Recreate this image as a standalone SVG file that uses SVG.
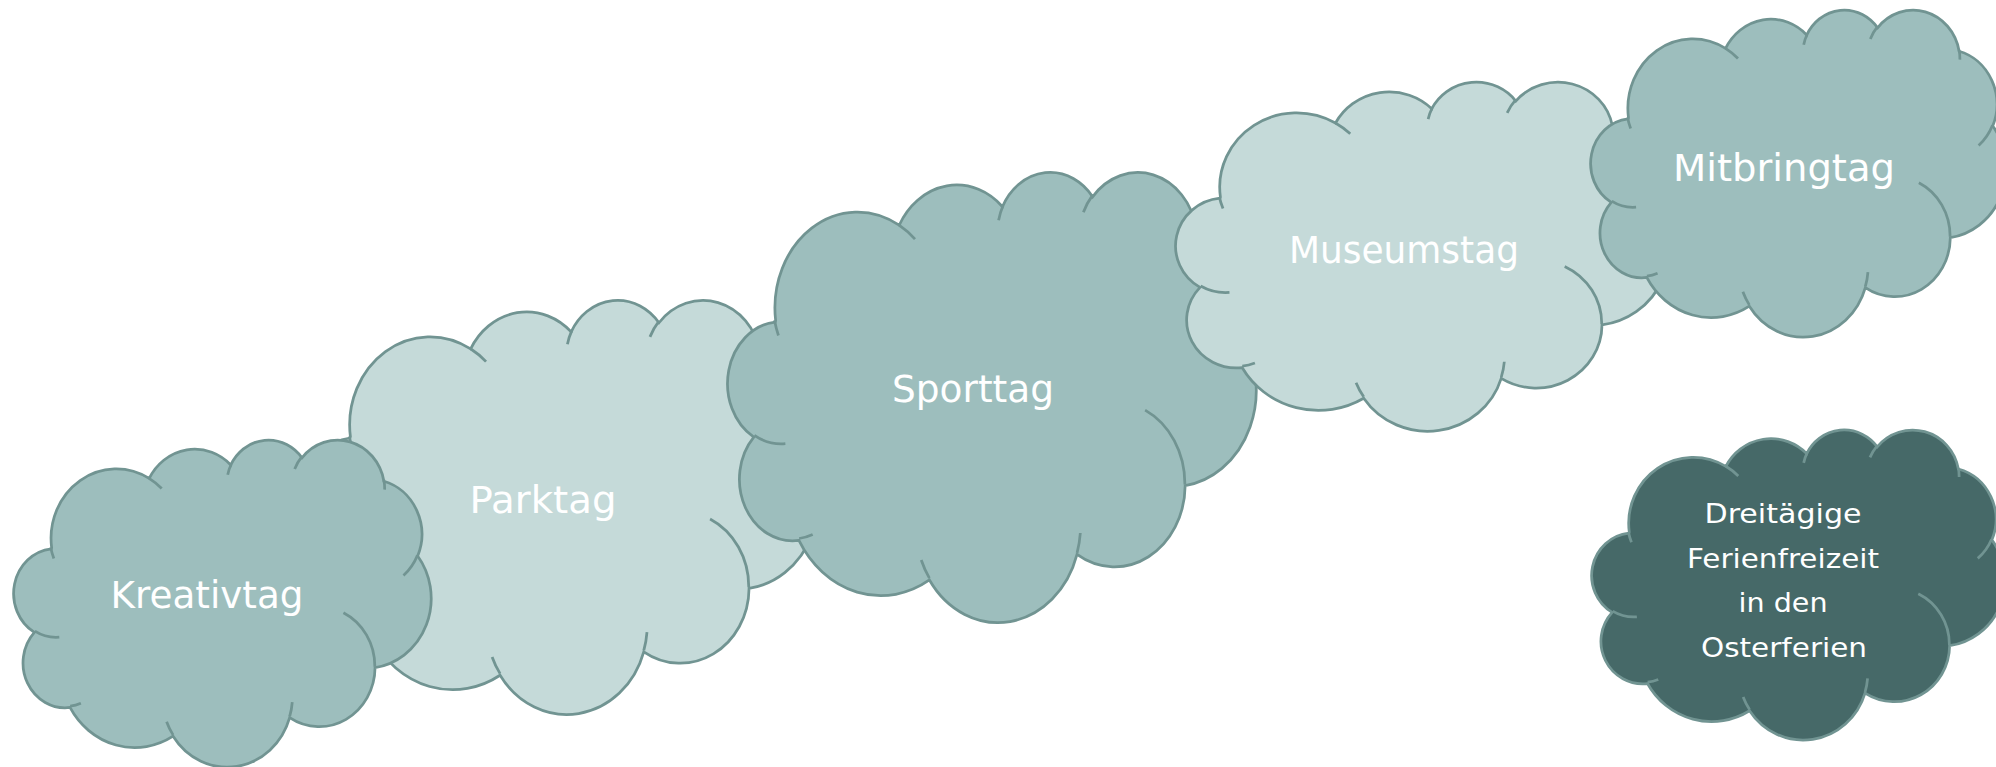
<svg xmlns="http://www.w3.org/2000/svg" xmlns:xlink="http://www.w3.org/1999/xlink" width="1996" height="767" viewBox="0 0 1996 767">
<style>
.light{fill:#C5DAD9}
.mid{fill:#9DBEBD}
.dark{fill:#466968}
.lbl{font-family:"DejaVu Sans","Liberation Sans",sans-serif;font-size:37px;fill:#FFFFFF;text-anchor:middle}
.sm{font-size:27px}
</style>
<defs>
<path id="cloud" stroke="#719492" stroke-width="2.75" vector-effect="non-scaling-stroke" d="M 3900 14370 A 6753 9190 0 0 1 14006 5203 A 5333 7267 0 0 1 22457 3432 A 4365 5945 0 0 1 29834 2480 A 4857 6595 0 0 1 38320 5575 A 5333 7273 0 0 1 41820 15459 A 6775 9220 0 0 1 37405 30201 A 5785 7867 0 0 1 28556 36811 A 6752 9215 0 0 1 16481 39263 A 7720 10543 0 0 1 5803 35468 A 4360 5918 0 0 1 2110 25548 A 4345 5945 0 0 1 3861 14504 Z"/>
<path id="lines" fill="none" stroke="#719492" stroke-width="2.75" vector-effect="non-scaling-stroke" d="M 4693 26177 A 4345 5945 0 0 1 2160 25380 M 6928 34899 A 4360 5918 0 0 1 5820 35280 M 16478 39090 A 6752 9215 0 0 1 15810 37348 M 28827 34751 A 6752 9215 0 0 1 28561 36659 M 34129 22954 A 5785 7867 0 0 1 37381 30090 M 41798 15354 A 5333 7273 0 0 1 40349 18031 M 38324 5426 A 4857 6595 0 0 1 38400 6690 M 29078 3952 A 4857 6595 0 0 1 29820 2340 M 22141 4720 A 4365 5945 0 0 1 22500 3331 M 14000 5192 A 6753 9190 0 0 1 15300 6540 M 4127 15789 A 6753 9190 0 0 1 3806 14339"/>
</defs>
<g id="connectors"></g>
<g id="parktag">
<use xlink:href="#cloud" class="light" transform="translate(304 299) scale(0.0118981 0.0095833)"/>
<use xlink:href="#lines" transform="translate(304 299) scale(0.0118981 0.0095833)"/>
<text class="lbl" x="543" y="513" textLength="147" lengthAdjust="spacingAndGlyphs">Parktag</text>
</g>
<g id="kreativtag">
<use xlink:href="#cloud" class="mid" transform="translate(14 439) scale(0.0096528 0.0075694)"/>
<use xlink:href="#lines" transform="translate(14 439) scale(0.0096528 0.0075694)"/>
<text class="lbl" x="207" y="608" textLength="193" lengthAdjust="spacingAndGlyphs">Kreativtag</text>
</g>
<g id="sporttag">
<use xlink:href="#cloud" class="mid" transform="translate(728 171) scale(0.0122222 0.0104167)"/>
<use xlink:href="#lines" transform="translate(728 171) scale(0.0122222 0.0104167)"/>
<text class="lbl" x="973" y="402" textLength="162" lengthAdjust="spacingAndGlyphs">Sporttag</text>
</g>
<g id="museumstag">
<use xlink:href="#cloud" class="light" transform="translate(1176 81) scale(0.0113889 0.0080787)"/>
<use xlink:href="#lines" transform="translate(1176 81) scale(0.0113889 0.0080787)"/>
<text class="lbl" x="1404" y="263" textLength="230" lengthAdjust="spacingAndGlyphs">Museumstag</text>
</g>
<g id="mitbringtag">
<use xlink:href="#cloud" class="mid" transform="translate(1591 9) scale(0.0096065 0.0075694)"/>
<use xlink:href="#lines" transform="translate(1591 9) scale(0.0096065 0.0075694)"/>
<text class="lbl" x="1784" y="181" textLength="222" lengthAdjust="spacingAndGlyphs">Mitbringtag</text>
</g>
<g id="ferienfreizeit">
<use xlink:href="#cloud" class="dark" transform="translate(1592 429) scale(0.0095602 0.0071759)"/>
<use xlink:href="#lines" transform="translate(1592 429) scale(0.0095602 0.0071759)"/>
<text class="lbl sm" x="1783" y="523" textLength="157" lengthAdjust="spacingAndGlyphs">Dreitägige</text>
<text class="lbl sm" x="1783" y="568" textLength="192" lengthAdjust="spacingAndGlyphs">Ferienfreizeit</text>
<text class="lbl sm" x="1783" y="612" textLength="89" lengthAdjust="spacingAndGlyphs">in den</text>
<text class="lbl sm" x="1784" y="657" textLength="166" lengthAdjust="spacingAndGlyphs">Osterferien</text>
</g>
</svg>
